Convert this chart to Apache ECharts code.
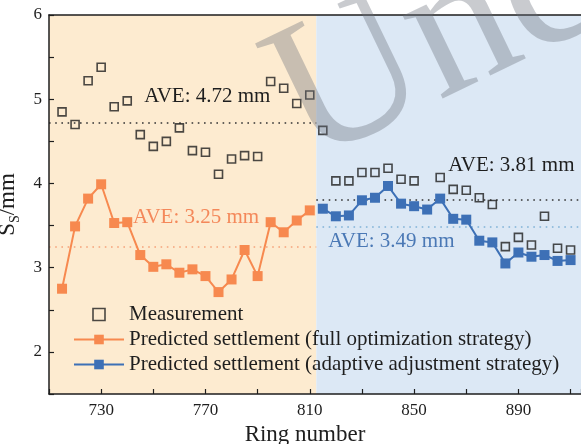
<!DOCTYPE html>
<html><head><meta charset="utf-8">
<script src="https://cdn.jsdelivr.net/npm/echarts@6/dist/echarts.min.js"></script>
<style>html,body{margin:0;padding:0;background:#fff}#c{width:581px;height:444px}</style>
</head><body><div id="c"></div>
<script>
// ---- data ----
const ringsFull = [715,720,725,730,735,740,745,750,755,760,765,770,775,780,785,790,795,800,805,810];
const ringsAdaptive = [815,820,825,830,835,840,845,850,855,860,865,870,875,880,885,890,895,900,905,910];
const measFull = [4.85,4.70,5.22,5.38,4.91,4.98,4.58,4.44,4.50,4.66,4.39,4.37,4.11,4.29,4.33,4.32,5.21,5.13,4.95,5.05];
const measAdaptive = [4.63,4.03,4.03,4.13,4.13,4.18,4.05,4.03,null,4.07,3.93,3.92,3.83,3.75,3.25,3.36,3.27,3.61,3.23,3.21];
const predFull = [2.75,3.49,3.82,3.99,3.53,3.54,3.15,3.01,3.04,2.94,2.98,2.90,2.71,2.86,3.21,2.90,3.54,3.42,3.56,3.68];
const predAdaptive = [3.70,3.61,3.62,3.80,3.83,3.97,3.76,3.73,3.69,3.82,3.58,3.57,3.32,3.30,3.05,3.18,3.13,3.15,3.08,3.09];
const aveMeasFull = 4.72, aveMeasAdaptive = 3.81, avePredFull = 3.25, avePredAdaptive = 3.49;
const stageBoundary = 812.5;
const xTickLabels = [730, 770, 810, 850, 890];
const yTickLabels = [2, 3, 4, 5, 6];
const legendNames = ['Measurement','Predicted settlement (full optimization strategy)','Predicted settlement (adaptive adjustment strategy)'];

// ---- styles ----
const FONT = '"Liberation Serif", "Times New Roman", serif';
const ORANGE = '#F7894F', BLUE = '#3D70B6', INK = '#1e1e1e';
const PEACH_BG = '#FDEBD0', BLUE_BG = '#DCE8F5';
const X_MIN = 710, X_MAX = 914;

const pairs = (xs, ys) => xs.map((x, i) => [x, ys[i]]).filter(p => p[1] !== null);

const chart = echarts.init(document.getElementById('c'), null, {renderer: 'canvas'});
chart.setOption({
  animation: false,
  backgroundColor: '#fff',
  grid: {left: 49, right: 0, top: 15, bottom: 50, containLabel: false, outerBoundsMode: 'none'},
  xAxis: [{
    type: 'value', min: X_MIN, max: X_MAX, interval: 20, z: 5,
    name: 'Ring number', nameLocation: 'middle', nameGap: 24,
    nameTextStyle: {fontFamily: FONT, fontSize: 23, color: INK, padding: [0, 20, 0, 0]},
    axisLine: {lineStyle: {color: INK, width: 1.5}},
    axisTick: {inside: true, length: 5, lineStyle: {color: INK, width: 1.2}},
    axisLabel: {fontFamily: FONT, fontSize: 17, color: INK, margin: 8,
      formatter: v => xTickLabels.includes(v) ? String(v) : ''},
    splitLine: {show: false}
  }, {
    type: 'value', position: 'top', min: X_MIN, max: X_MAX, z: 5,
    axisLine: {show: true, onZero: false, lineStyle: {color: INK, width: 1.5}},
    axisTick: {show: false}, axisLabel: {show: false}, splitLine: {show: false}
  }],
  yAxis: {
    type: 'value', min: 1.5, max: 6, interval: 0.5, z: 5,
    name: '{s|S}{sub|S}{s|/mm}', nameLocation: 'middle', nameGap: 22,
    nameTextStyle: {rich: {
      s: {fontFamily: FONT, fontSize: 23, color: INK, lineHeight: 30, verticalAlign: 'middle'},
      sub: {fontFamily: FONT, fontSize: 14, color: INK, lineHeight: 30, verticalAlign: 'bottom'}
    }},
    axisLine: {lineStyle: {color: INK, width: 1.5}},
    axisTick: {inside: true, length: 5, lineStyle: {color: INK, width: 1.2}},
    axisLabel: {fontFamily: FONT, fontSize: 17, color: INK, margin: 7,
      formatter: v => yTickLabels.includes(v) ? String(v) : ''},
    splitLine: {show: false}
  },
  legend: {
    orient: 'vertical', left: 68, top: 299, itemWidth: 50, itemHeight: 12, itemGap: 4,
    data: [
      {name: legendNames[0], icon: 'path://M0,0H10V10H0Z',
       itemStyle: {color: 'rgba(0,0,0,0)', borderColor: INK, borderWidth: 1.6}},
      legendNames[1], legendNames[2]
    ],
    symbolKeepAspect: true,
    textStyle: {fontFamily: FONT, fontSize: 21, color: INK, lineHeight: 21},
    inactiveColor: '#ccc'
  },
  series: [{
    name: legendNames[0], type: 'scatter', z: 3,
    symbol: 'rect', symbolSize: 8,
    itemStyle: {color: 'rgba(0,0,0,0)', borderColor: INK, borderWidth: 1.6},
    data: pairs(ringsFull, measFull).concat(pairs(ringsAdaptive, measAdaptive)),
    markArea: {silent: true, z: 1, data: [
      [{xAxis: X_MIN, itemStyle: {color: PEACH_BG}}, {xAxis: stageBoundary}],
      [{xAxis: stageBoundary, itemStyle: {color: BLUE_BG}}, {xAxis: X_MAX}]
    ]},
    markLine: {silent: true, symbol: 'none', label: {show: false}, z: 2,
      lineStyle: {color: '#333', width: 1.6, type: [1.6, 4.6]},
      data: [
        [{coord: [X_MIN, aveMeasFull]}, {coord: [stageBoundary, aveMeasFull]}],
        [{coord: [stageBoundary, aveMeasAdaptive]}, {coord: [X_MAX, aveMeasAdaptive]}]
      ]},
    markPoint: {silent: true, symbol: 'rect', symbolSize: 0,
      label: {show: true, position: 'right', distance: 0, fontFamily: FONT, fontSize: 21, color: INK},
      data: [
        {coord: [746.5, 5.03], label: {formatter: 'AVE: ' + aveMeasFull.toFixed(2) + ' mm'}},
        {coord: [863.1, 4.21], label: {formatter: 'AVE: ' + aveMeasAdaptive.toFixed(2) + ' mm'}}
      ]}
  }, {
    name: legendNames[1], type: 'line', z: 4,
    symbol: 'rect', symbolSize: 10, showAllSymbol: true,
    itemStyle: {color: ORANGE}, lineStyle: {color: ORANGE, width: 2},
    data: pairs(ringsFull, predFull),
    markLine: {silent: true, symbol: 'none', label: {show: false}, z: 2,
      lineStyle: {color: '#F5A27A', width: 1.6, type: [1.6, 4.6]},
      data: [[{coord: [X_MIN, avePredFull]}, {coord: [stageBoundary, avePredFull]}]]},
    markPoint: {silent: true, symbol: 'rect', symbolSize: 0,
      label: {show: true, position: 'right', distance: 0, fontFamily: FONT, fontSize: 21, color: '#F4885A'},
      data: [{coord: [742.2, 3.594], label: {formatter: 'AVE: ' + avePredFull.toFixed(2) + ' mm'}}]}
  }, {
    name: legendNames[2], type: 'line', z: 4,
    symbol: 'rect', symbolSize: 10, showAllSymbol: true,
    itemStyle: {color: BLUE}, lineStyle: {color: BLUE, width: 2},
    data: pairs(ringsAdaptive, predAdaptive),
    markLine: {silent: true, symbol: 'none', label: {show: false}, z: 2,
      lineStyle: {color: '#7FB1D6', width: 1.6, type: [1.6, 4.6]},
      data: [[{coord: [stageBoundary, avePredAdaptive]}, {coord: [X_MAX, avePredAdaptive]}]]},
    markPoint: {silent: true, symbol: 'rect', symbolSize: 0,
      label: {show: true, position: 'right', distance: 0, fontFamily: FONT, fontSize: 21, color: '#4A78B5'},
      data: [{coord: [817.1, 3.306], label: {formatter: 'AVE: ' + avePredAdaptive.toFixed(2) + ' mm'}}]}
  }],
  graphic: [{
    type: 'text', x: 242, y: 26, rotation: 0.45, z: 100, silent: true,
    style: {text: 'Uncorrected', font: '200px "Liberation Serif"', fill: 'rgba(105,112,122,0.36)'}
  }]
});
</script></body></html>
